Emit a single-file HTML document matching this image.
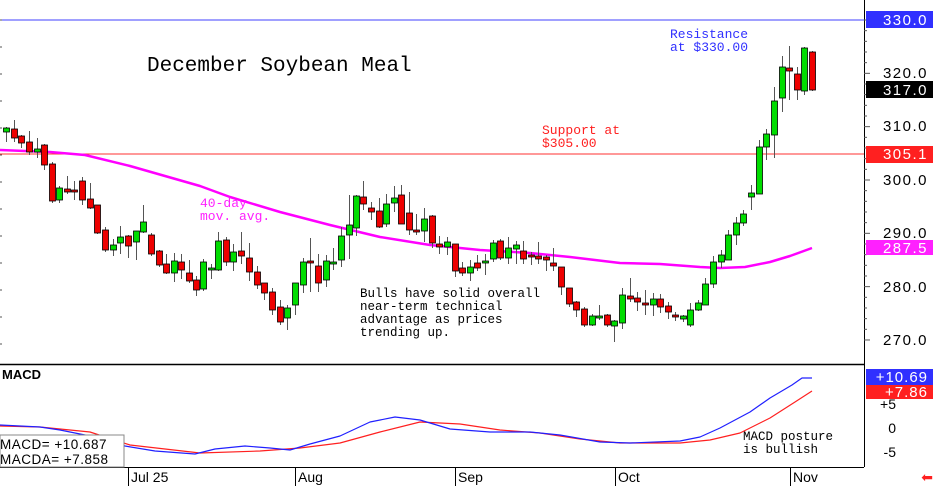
<!DOCTYPE html>
<html><head><meta charset="utf-8"><style>
html,body{margin:0;padding:0;background:#fff;width:933px;height:486px;overflow:hidden}
svg{display:block}
.m{font-family:"Liberation Mono",monospace}
.s{font-family:"Liberation Sans",sans-serif}
</style></head><body>
<svg id="c" width="933" height="486" viewBox="0 0 933 486" xmlns="http://www.w3.org/2000/svg">
<rect width="933" height="486" fill="#fff"/>
<!-- horizontal lines -->
<line x1="0" y1="20" x2="864" y2="20" stroke="#4040ff" stroke-width="1"/>
<line x1="0" y1="154" x2="864" y2="154" stroke="#ff3030" stroke-width="1"/>
<g id="ma"></g>
<g id="cd"></g>
<!-- panel borders -->
<line x1="864.5" y1="0" x2="864.5" y2="467" stroke="#000"/>
<line x1="0" y1="364.5" x2="864" y2="364.5" stroke="#000" stroke-width="1.5"/>
<line x1="0" y1="467.5" x2="864" y2="467.5" stroke="#000"/>
<!-- right ticks -->
<g stroke="#555" stroke-width="1" id="ticks"></g>
<!-- text -->
<text x="147" y="71" class="m" font-size="21" fill="#000">December Soybean Meal</text>
<text x="670" y="38" class="m" font-size="13" fill="#3030ff">Resistance</text>
<text x="670" y="51" class="m" font-size="13" fill="#3030ff">at $330.00</text>
<text x="542" y="134" class="m" font-size="13" fill="#ff2020">Support at</text>
<text x="542" y="147" class="m" font-size="13" fill="#ff2020">$305.00</text>
<text x="200" y="207" class="m" font-size="13" fill="#ff20ff">40-day</text>
<text x="200" y="220" class="m" font-size="13" fill="#ff20ff">mov. avg.</text>
<text class="m" font-size="12.5" fill="#000"><tspan x="360" y="297">Bulls have solid overall</tspan><tspan x="360" y="310">near-term technical</tspan><tspan x="360" y="323">advantage as prices</tspan><tspan x="360" y="336">trending up.</tspan></text>
<text class="m" font-size="12.5" fill="#000"><tspan x="743" y="440">MACD posture</tspan><tspan x="743" y="453">is bullish</tspan></text>
<text x="2" y="379" class="s" font-size="13" font-weight="bold" fill="#000">MACD</text>
<!-- right axis labels -->
<rect x="866" y="11" width="67" height="17" fill="#3030ff"/>
<text x="928" y="25" class="s" font-size="15" fill="#fff" text-anchor="end" letter-spacing="1.5">330.0</text>
<text x="928" y="78" class="s" font-size="15" fill="#000" text-anchor="end" letter-spacing="1.5">320.0</text>
<rect x="866" y="81" width="67" height="17" fill="#000"/>
<text x="928" y="95" class="s" font-size="15" fill="#fff" text-anchor="end" letter-spacing="1.5">317.0</text>
<text x="928" y="131" class="s" font-size="15" fill="#000" text-anchor="end" letter-spacing="1.5">310.0</text>
<rect x="866" y="146" width="67" height="17" fill="#ff2020"/>
<text x="928" y="159" class="s" font-size="15" fill="#fff" text-anchor="end" letter-spacing="1.5">305.1</text>
<text x="928" y="185" class="s" font-size="15" fill="#000" text-anchor="end" letter-spacing="1.5">300.0</text>
<text x="928" y="238" class="s" font-size="15" fill="#000" text-anchor="end" letter-spacing="1.5">290.0</text>
<rect x="866" y="240" width="67" height="15" fill="#ff20ff"/>
<text x="928" y="253" class="s" font-size="15" fill="#fff" text-anchor="end" letter-spacing="1.5">287.5</text>
<text x="928" y="292" class="s" font-size="15" fill="#000" text-anchor="end" letter-spacing="1.5">280.0</text>
<text x="928" y="345" class="s" font-size="15" fill="#000" text-anchor="end" letter-spacing="1.5">270.0</text>
<rect x="866" y="369" width="67" height="16" fill="#3030ff"/>
<text x="928" y="382" class="s" font-size="15" fill="#fff" text-anchor="end" letter-spacing="1">+10.69</text>
<rect x="866" y="385" width="67" height="14" fill="#ff2020"/>
<text x="928" y="397" class="s" font-size="15" fill="#fff" text-anchor="end" letter-spacing="1">+7.86</text>
<text x="896" y="409" class="s" font-size="14" fill="#000" text-anchor="end">+5</text>
<text x="896" y="433" class="s" font-size="14" fill="#000" text-anchor="end">0</text>
<text x="896" y="457" class="s" font-size="14" fill="#000" text-anchor="end">-5</text>
<text x="933" y="482" font-size="14" fill="#ff2020" text-anchor="end" class="s">&#x2B05;</text>
<!-- x axis -->
<g stroke="#000"><line x1="128.5" y1="467" x2="128.5" y2="486"/><line x1="295.5" y1="467" x2="295.5" y2="486"/><line x1="455.5" y1="467" x2="455.5" y2="486"/><line x1="615.5" y1="467" x2="615.5" y2="486"/><line x1="790.5" y1="467" x2="790.5" y2="486"/></g>
<g class="s" font-size="14" fill="#000"><text x="131" y="482">Jul 25</text><text x="298" y="482">Aug</text><text x="458" y="482">Sep</text><text x="618" y="482">Oct</text><text x="793" y="482">Nov</text></g>
<g id="macd"></g>
<rect x="0" y="435" width="124" height="32" fill="#fff" stroke="#888"/>
<text class="s" font-size="13.5" fill="#000" letter-spacing="0.5"><tspan x="0" y="449">MACD=  +10.687</tspan><tspan x="0" y="464">MACDA=  +7.858</tspan></text>
</svg>
<script>
const NS="http://www.w3.org/2000/svg";
function el(p,t,a){const e=document.createElementNS(NS,t);for(const k in a)e.setAttribute(k,a[k]);p.appendChild(e);return e;}
// x, bodyTop, bodyBot, high, low, green?
const C=[[6,128,132,127,142,1],[14,129,138,120,142,0],[21,136,143,135,148,0],[29,142,152,131,155,0],[37,149,152,138,158,1],[44,145,165,144,170,0],[52,164,201,162,203,0],[59,188,200,186,203,1],[67,189,192,176,194,0],[74,190,191,181,200,0],[82,181,200,177,205,0],[90,199,208,183,209,0],[97,205,233,205,234,0],[105,230,250,227,252,0],[113,245,250,239,256,1],[120,237,243,226,254,1],[128,236,246,235,258,0],[136,231,242,231,260,1],[143,222,232,205,233,1],[151,235,254,233,256,0],[159,251,265,250,267,0],[166,264,273,254,274,0],[174,261,273,253,282,1],[181,262,270,254,279,0],[189,273,281,260,283,0],[196,280,290,276,296,0],[203,262,289,259,291,1],[211,268,269,264,279,1],[218,241,270,232,271,1],[226,240,262,237,266,0],[233,252,262,244,271,1],[241,251,256,232,264,0],[249,258,272,243,281,0],[257,272,285,266,289,0],[264,283,293,283,300,0],[272,292,310,288,315,0],[280,307,322,300,325,0],[287,308,318,305,330,1],[295,283,305,283,315,1],
[303,262,285,258,293,1],[310,261,263,238,292,0],[318,266,283,254,292,0],[326,261,280,255,287,1],[333,262,263,248,270,1],[341,236,260,227,267,1],[349,225,235,195,259,1],[356,196,228,195,236,1],[363,197,204,181,210,0],[371,208,212,202,220,0],[379,211,227,198,228,0],[386,204,224,194,227,1],[394,198,203,186,212,1],[401,195,224,185,224,0],[409,213,230,192,235,0],[416,230,232,214,235,0],[424,219,231,208,242,1],[432,216,243,215,248,0],[439,244,247,236,254,0],[447,242,247,237,255,1],[455,244,271,244,277,0],[462,268,273,262,276,0],[470,267,273,260,281,1],[477,263,268,255,271,0],[485,261,262,254,275,1],[493,243,259,240,262,1],[500,241,258,239,260,0],[508,248,258,237,264,1],[516,245,249,241,264,1],[523,251,259,241,264,0],[531,255,256,252,265,0],[538,256,259,242,264,0],[546,257,260,255,271,0],[553,263,266,248,271,0],[561,267,287,267,295,0],[569,288,304,288,307,0],[576,302,310,301,317,0],[584,309,325,307,327,0],[592,316,325,314,326,1],[599,316,317,305,320,1],[607,315,325,314,327,0],[614,321,326,320,342,1],[622,295,323,288,329,1],[630,296,299,278,302,0],[637,298,302,292,311,0],[645,303,305,290,315,0],[653,299,305,293,316,1],[660,299,307,294,313,0],[668,306,312,302,319,0],[675,315,317,312,321,0],[683,316,319,315,322,1],[690,310,325,303,327,1],[698,303,310,300,311,1],[705,284,305,278,305,1],[713,262,284,256,288,1],[721,255,262,250,268,1],[728,235,260,230,260,1],[736,223,235,217,245,1],[743,214,223,210,226,1],[751,193,197,185,210,1],[759,147,194,140,194,1],[766,134,147,129,160,1],[774,101,135,87,158,1],[782,67,98,56,112,1],[789,68,71,46,100,0],[797,74,90,67,100,0],[804,48,91,47,95,1],[812,52,90,51,91,0]];
const g=document.getElementById('cd');
C.forEach(c=>{const[x,t,b,h,l,gr]=c;
el(g,'line',{x1:x+.5,y1:h,x2:x+.5,y2:l,stroke:'#555','stroke-width':1});
el(g,'rect',{x:x-2.5,y:t,width:6,height:Math.max(b-t,2),fill:gr?'#00dd00':'#ee0000',stroke:'#000','stroke-width':0.8});});
function pl(p,pts,col,w){el(p,'polyline',{points:pts.map(a=>a.join(',')).join(' '),fill:'none',stroke:col,'stroke-width':w,'stroke-linejoin':'round'});}
pl(document.getElementById('ma'),[[0,150],[50,152],[85,155],[130,166],[200,186],[230,197],[280,212],[330,225],[380,237],[430,245],[480,250],[530,253],[570,257],[620,263],[660,264],[700,267],[720,268],[745,267],[770,262],[790,256],[812,248]],'#ff00ff',2.5);
const m=document.getElementById('macd');
pl(m,[[0,426],[40,427],[90,432],[130,445],[200,453],[260,451],[300,448],[340,443],[380,432],[420,422],[460,424],[500,430],[540,433],[580,439],[620,443],[680,443],[710,440],[740,433],[770,418],[795,402],[812,391]],'#ff2020',1.2);
pl(m,[[0,425],[40,427],[60,430],[95,437],[125,446],[155,451],[195,454],[215,449],[245,446],[270,448],[290,450],[310,444],[340,436],[370,422],[395,417],[420,420],[450,429],[490,432],[530,432],[560,435],[600,442],[630,443],[680,441],[700,437],[720,428],[750,412],[770,398],[792,385],[802,378],[812,378]],'#2020ff',1.2);
const tk=document.getElementById('ticks');
for(let p=270;p<=330;p+=2){const y=20+(330-p)*5.333;el(tk,'line',{x1:864,y1:y,x2:p%10==0?870:867,y2:y});}
for(let y=20;y<360;y+=27)el(tk,'line',{x1:0,y1:y,x2:2,y2:y});
</script>
</body></html>
